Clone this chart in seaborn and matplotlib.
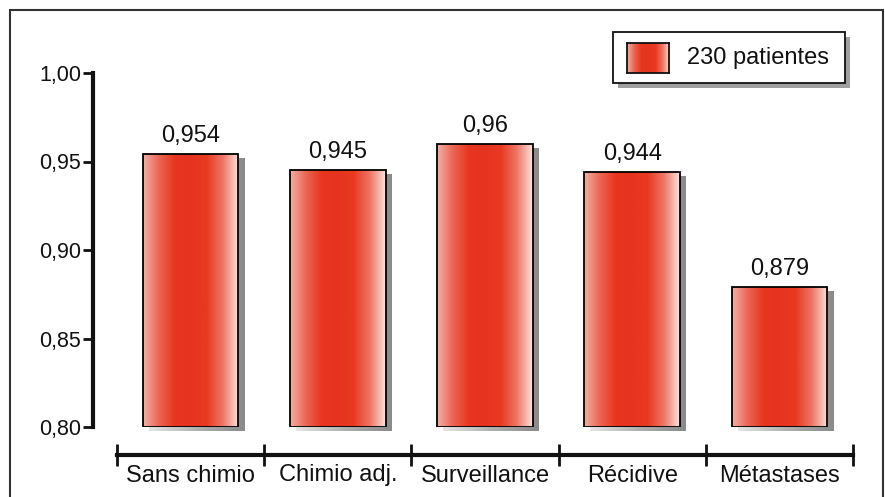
import numpy as np
import pandas as pd
import matplotlib
matplotlib.use("Agg")
import matplotlib.pyplot as plt
import matplotlib.transforms as mtransforms
from matplotlib.patches import Rectangle
from matplotlib.colors import LinearSegmentedColormap
import seaborn as sns

categories = ["Sans chimio", "Chimio adj.", "Surveillance", "Récidive", "Métastases"]
values = [0.954, 0.945, 0.96, 0.944, 0.879]
value_labels = ["0,954", "0,945", "0,96", "0,944", "0,879"]
y_ticks = [0.80, 0.85, 0.90, 0.95, 1.00]
y_tick_labels = ["0,80", "0,85", "0,90", "0,95", "1,00"]
series_name = "230 patientes"

df = pd.DataFrame({"categorie": categories, "valeur": values})

sns.set_theme(style="white")
plt.rcParams["font.family"] = ["Liberation Sans", "DejaVu Sans"]

W, H = 885, 497
fig = plt.figure(figsize=(W / 100, H / 100), dpi=100)
fig.patch.set_facecolor("white")

ax = fig.add_axes([117 / W, 1 - 427 / H, (853 - 117) / W, (427 - 73) / H])
ax.set_facecolor("none")

sns.barplot(data=df, x="categorie", y="valeur", ax=ax, width=0.65,
            color="#e8341f", edgecolor="black", linewidth=1.3, zorder=3)

y_lo, y_hi = 0.80, 1.00
ax.set_xlabel("")
ax.set_ylabel("")

# horizontal red gradient: pale edges, saturated centre
red_cmap = LinearSegmentedColormap.from_list(
    "rouge", ["#f2b0a6", "#ec6553", "#e8351f", "#e63320", "#e83a20", "#ee7665", "#fbe2de"])
grad = np.linspace(0, 1, 256).reshape(1, -1)
shadow_cmap = LinearSegmentedColormap.from_list("ombre", ["#8a8a8a", "#b0b0b0", "#e6e6e6"])

shift = mtransforms.ScaledTranslation(6 / 100, -4 / 100, fig.dpi_scale_trans)
for bar in list(ax.patches):
    x0, w = bar.get_x(), bar.get_width()
    top = bar.get_y() + bar.get_height()
    # the value axis starts at 0,80: bars rise from there
    bar.set_y(y_lo)
    bar.set_height(top - y_lo)
    bar.set_facecolor("none")
    h = top - y_lo
    # drop shadow to the lower right
    sh = Rectangle((x0, y_lo), w, h, transform=ax.transData + shift,
                   facecolor="none", edgecolor="none", zorder=1)
    ax.add_patch(sh)
    img_s = ax.imshow(grad[:, ::-1], cmap=shadow_cmap, aspect="auto",
                      extent=(x0, x0 + w, y_lo, top), zorder=1,
                      transform=ax.transData + shift, interpolation="bilinear")
    img_s.set_clip_path(sh)
    img = ax.imshow(grad, cmap=red_cmap, aspect="auto",
                    extent=(x0, x0 + w, y_lo, top), zorder=2, interpolation="bilinear")
    img.set_clip_path(bar)

ax.set_xlim(-0.5, len(categories) - 0.5)
ax.set_ylim(y_lo, y_hi)

for i, (v, lab) in enumerate(zip(values, value_labels)):
    ax.annotate(lab, (i, v), xytext=(0, 5), textcoords="offset points",
                ha="center", va="bottom", fontsize=17, color="#111111", zorder=5)

# left axis set apart from the category axis
for s in ["top", "right"]:
    ax.spines[s].set_visible(False)
ax.spines["left"].set_position(("outward", 17))
ax.spines["left"].set_linewidth(3)
ax.spines["left"].set_color("#111111")
ax.spines["left"].set_bounds(y_lo, y_hi)
ax.set_yticks(y_ticks)
ax.set_yticklabels(y_tick_labels)
ax.tick_params(axis="y", which="major", direction="out", length=7, width=2,
               labelsize=15.5, colors="#111111", pad=2, left=True)

ax.spines["bottom"].set_position(("outward", 20))
ax.spines["bottom"].set_linewidth(3)
ax.spines["bottom"].set_color("#111111")
ax.set_xticks(range(len(categories)))
ax.set_xticklabels(categories)
ax.set_xticks(np.arange(-0.5, len(categories)), minor=True)
ax.tick_params(axis="x", which="major", length=0, labelsize=17,
               colors="#111111", pad=7)
ax.tick_params(axis="x", which="minor", direction="inout", length=16, width=2,
               color="#111111", bottom=True)
ax.grid(False)

# legend box with its shadow
lx0, ly0, lx1, ly1 = 613, 32, 845, 83
fig.add_artist(Rectangle(((lx0 + 5) / W, 1 - (ly1 + 5) / H), (lx1 - lx0) / W, (ly1 - ly0) / H,
                         transform=fig.transFigure, facecolor="#a0a0a0", edgecolor="none", zorder=8))
fig.add_artist(Rectangle((lx0 / W, 1 - ly1 / H), (lx1 - lx0) / W, (ly1 - ly0) / H,
                         transform=fig.transFigure, facecolor="white", edgecolor="#111111",
                         linewidth=1.3, zorder=9))
leg_ax = fig.add_axes([627 / W, 1 - 73 / H, (669 - 627) / W, (73 - 43) / H], zorder=10)
leg_ax.imshow(grad, cmap=red_cmap, aspect="auto", extent=(0, 1, 0, 1), interpolation="bilinear")
leg_ax.set_xticks([])
leg_ax.set_yticks([])
for s in leg_ax.spines.values():
    s.set_linewidth(1.3)
    s.set_color("#111111")
fig.text(687 / W, 1 - 58 / H, series_name, ha="left", va="center",
         fontsize=17, color="#111111", zorder=11)

# frame around the whole chart
fig.add_artist(Rectangle((10 / W, -0.01), (883 - 10) / W, 1 - 10 / H + 0.01,
                         transform=fig.transFigure, facecolor="none",
                         edgecolor="#333333", linewidth=1.5, zorder=0))

fig.savefig("out.png", dpi=100, facecolor="white")
